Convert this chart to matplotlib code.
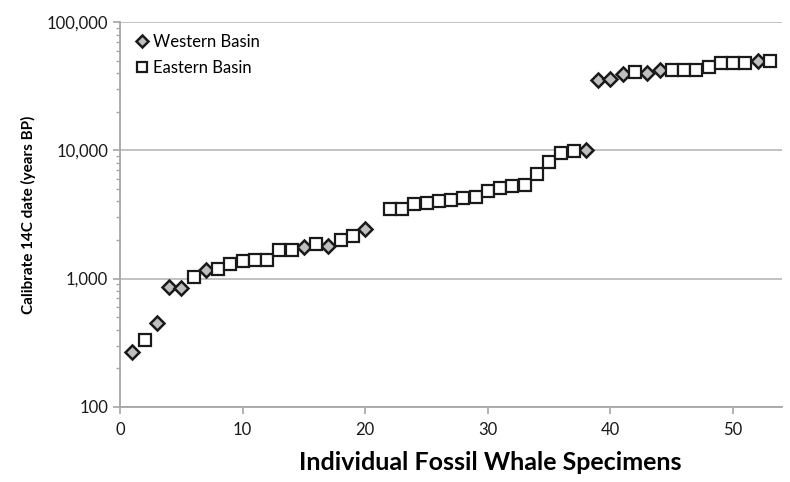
import matplotlib
matplotlib.use("Agg")
import matplotlib.pyplot as plt
from matplotlib.ticker import FuncFormatter, LogLocator, NullFormatter

plt.rcParams['font.family'] = ['Lato', 'DejaVu Sans']

# Datos (numero de especimen, edad calibrada)
specimen = list(range(1, 54))
ages = [270, 332, 450, 855, 840, 1020, 1165, 1180, 1310, 1370,
        1390, 1390, 1680, 1680, 1770, 1850, 1800, 1990, 2150, 2420,
        None, 3500, 3500, 3850, 3900, 4050, 4100, 4250, 4300, 4800,
        5100, 5300, 5400, 6600, 8100, 9500, 9900, 10100, 35500, 36100,
        39500, 40700, 40000, 42000, 42700, 42700, 42700, 45000, 47900, 47900,
        47900, 49600, 50100]
basin = ['W', 'E', 'W', 'W', 'W', 'E', 'W', 'E', 'E', 'E',
         'E', 'E', 'E', 'E', 'W', 'E', 'W', 'E', 'E', 'W',
         None, 'E', 'E', 'E', 'E', 'E', 'E', 'E', 'E', 'E',
         'E', 'E', 'E', 'E', 'E', 'E', 'E', 'W', 'W', 'W',
         'W', 'E', 'W', 'W', 'E', 'E', 'E', 'E', 'E', 'E',
         'E', 'W', 'E']

west_x = [s for s, a, b in zip(specimen, ages, basin) if b == 'W']
west_y = [a for s, a, b in zip(specimen, ages, basin) if b == 'W']
east_x = [s for s, a, b in zip(specimen, ages, basin) if b == 'E']
east_y = [a for s, a, b in zip(specimen, ages, basin) if b == 'E']

fig = plt.figure(figsize=(7.9, 4.82), dpi=100)
ax = fig.add_axes([0.152, 0.156, 0.838, 0.798])

ax.plot(west_x, west_y, linestyle='none', marker='D', markersize=7.3,
        markerfacecolor='#bfbfbf', markeredgecolor='#1a1a1a',
        markeredgewidth=1.8, label='Western Basin', zorder=3)
ax.plot(east_x, east_y, linestyle='none', marker='s', markersize=8.3,
        markerfacecolor='white', markeredgecolor='#1a1a1a',
        markeredgewidth=1.6, label='Eastern Basin', zorder=3)

ax.set_yscale('log')
ax.set_ylim(100, 100000)
ax.set_xlim(0, 54)
ax.set_xticks([0, 10, 20, 30, 40, 50])
ax.yaxis.set_major_locator(LogLocator(base=10))
ax.yaxis.set_minor_locator(LogLocator(base=10, subs=range(2, 10)))
ax.yaxis.set_major_formatter(FuncFormatter(lambda v, p: f'{int(v):,}'))
ax.yaxis.set_minor_formatter(NullFormatter())

ax.grid(axis='y', which='major', color='#bdbdbd', linewidth=1.3)
for side in ['top', 'right']:
    ax.spines[side].set_visible(False)
ax.spines['left'].set_color('#a6a6a6')
ax.spines['bottom'].set_color('#a6a6a6')
ax.spines['left'].set_linewidth(1.3)
ax.spines['bottom'].set_linewidth(1.3)
ax.tick_params(axis='both', which='both', colors='#a6a6a6', labelcolor='#1a1a1a',
               labelsize=12, direction='out')
ax.tick_params(axis='y', which='major', length=5, width=1.2)
ax.tick_params(axis='y', which='minor', length=3, width=1)
ax.tick_params(axis='x', length=5, width=1.2, pad=6)

ax.set_xlabel('Individual Fossil Whale Specimens', fontsize=18, fontweight='bold')
ax.xaxis.set_label_coords(0.559, -0.115)
ax.set_ylabel('Calibrate 14C date (years BP)', fontsize=11, fontweight='bold',
              labelpad=8)

leg = ax.legend(loc='upper left', frameon=False, fontsize=12, handletextpad=0.1,
                borderaxespad=0.3, labelspacing=0.6, handlelength=1.2,
                markerscale=0.8)

fig.savefig('out.png', dpi=100)
